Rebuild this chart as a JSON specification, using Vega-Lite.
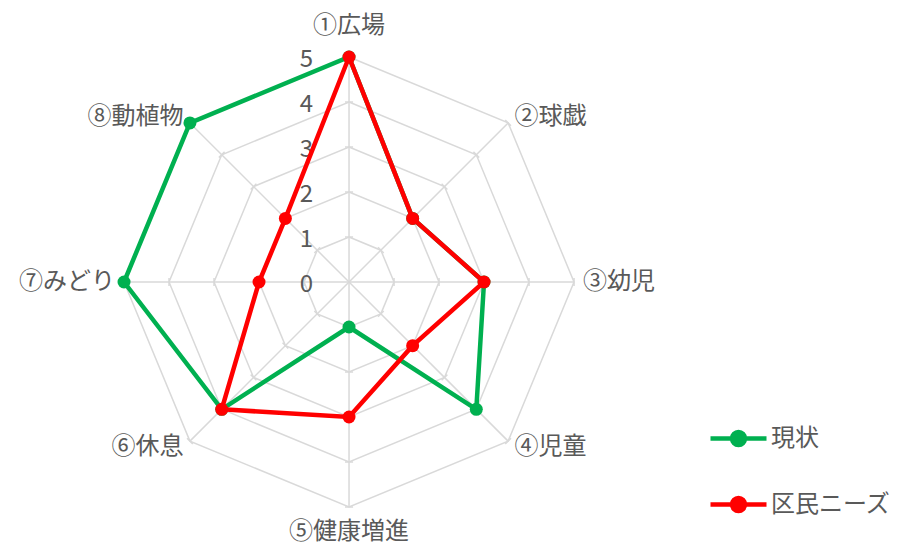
{
  "$schema": "https://vega.github.io/schema/vega-lite/v6.json",
  "width": 909,
  "height": 549,
  "autosize": "none",
  "padding": 0,
  "config": {"view": {"stroke": null}, "font": "Noto Sans CJK JP"},
  "datasets": {
    "scores": [
      {"axis": "①広場", "i": 0, "series": "現状", "v": 5},
      {"axis": "②球戯", "i": 1, "series": "現状", "v": 2},
      {"axis": "③幼児", "i": 2, "series": "現状", "v": 3},
      {"axis": "④児童", "i": 3, "series": "現状", "v": 4},
      {"axis": "⑤健康増進", "i": 4, "series": "現状", "v": 1},
      {"axis": "⑥休息", "i": 5, "series": "現状", "v": 4},
      {"axis": "⑦みどり", "i": 6, "series": "現状", "v": 5},
      {"axis": "⑧動植物", "i": 7, "series": "現状", "v": 5},
      {"axis": "①広場", "i": 0, "series": "区民ニーズ", "v": 5},
      {"axis": "②球戯", "i": 1, "series": "区民ニーズ", "v": 2},
      {"axis": "③幼児", "i": 2, "series": "区民ニーズ", "v": 3},
      {"axis": "④児童", "i": 3, "series": "区民ニーズ", "v": 2},
      {"axis": "⑤健康増進", "i": 4, "series": "区民ニーズ", "v": 3},
      {"axis": "⑥休息", "i": 5, "series": "区民ニーズ", "v": 4},
      {"axis": "⑦みどり", "i": 6, "series": "区民ニーズ", "v": 2},
      {"axis": "⑧動植物", "i": 7, "series": "区民ニーズ", "v": 2}
    ],
    "grid": [
      {"lv": 1, "i": [0, 1, 2, 3, 4, 5, 6, 7]},
      {"lv": 2, "i": [0, 1, 2, 3, 4, 5, 6, 7]},
      {"lv": 3, "i": [0, 1, 2, 3, 4, 5, 6, 7]},
      {"lv": 4, "i": [0, 1, 2, 3, 4, 5, 6, 7]},
      {"lv": 5, "i": [0, 1, 2, 3, 4, 5, 6, 7]}
    ],
    "levels": [{"lv": 0}, {"lv": 1}, {"lv": 2}, {"lv": 3}, {"lv": 4}, {"lv": 5}]
  },
  "data": {"name": "scores"},
  "transform": [
    {"calculate": "datum.i * PI / 4", "as": "a"},
    {"calculate": "datum.v * sin(datum.a)", "as": "px"},
    {"calculate": "datum.v * cos(datum.a)", "as": "py"},
    {"calculate": "5 * sin(datum.a)", "as": "ex"},
    {"calculate": "5 * cos(datum.a)", "as": "ey"},
    {"calculate": "datum.i == 0 ? 5.68 : (datum.i == 4 ? 5.55 : 5.2)", "as": "lr"},
    {"calculate": "datum.lr * sin(datum.a)", "as": "lx"},
    {"calculate": "datum.lr * cos(datum.a)", "as": "ly"}
  ],
  "layer": [
    {
      "data": {"name": "grid"},
      "transform": [
        {"flatten": ["i"]},
        {"calculate": "datum.i * PI / 4", "as": "a"},
        {"calculate": "datum.lv * sin(datum.a)", "as": "gx"},
        {"calculate": "datum.lv * cos(datum.a)", "as": "gy"}
      ],
      "mark": {"type": "line", "interpolate": "linear-closed", "stroke": "#D9D9D9", "strokeWidth": 1.5},
      "encoding": {
        "x": {"field": "gx", "type": "quantitative", "scale": {"domain": [-7.756, 12.444], "nice": false, "zero": false}, "axis": null},
        "y": {"field": "gy", "type": "quantitative", "scale": {"domain": [-5.933, 6.267], "nice": false, "zero": false}, "axis": null},
        "detail": {"field": "lv"},
        "order": {"field": "i", "type": "quantitative"}
      }
    },
    {
      "transform": [{"filter": "datum.series == '現状'"}],
      "mark": {"type": "rule", "stroke": "#D9D9D9", "strokeWidth": 1.5},
      "encoding": {
        "x": {"field": "ex", "type": "quantitative"},
        "y": {"field": "ey", "type": "quantitative"},
        "x2": {"datum": 0},
        "y2": {"datum": 0}
      }
    },
    {
      "data": {"name": "grid"},
      "transform": [
        {"flatten": ["i"]},
        {"calculate": "datum.i * PI / 4", "as": "a"},
        {"calculate": "datum.lv * sin(datum.a) - 0.09 * cos(datum.a)", "as": "tx1"},
        {"calculate": "datum.lv * cos(datum.a) + 0.09 * sin(datum.a)", "as": "ty1"},
        {"calculate": "datum.lv * sin(datum.a) + 0.09 * cos(datum.a)", "as": "tx2"},
        {"calculate": "datum.lv * cos(datum.a) - 0.09 * sin(datum.a)", "as": "ty2"}
      ],
      "mark": {"type": "rule", "stroke": "#D9D9D9", "strokeWidth": 1.5},
      "encoding": {
        "x": {"field": "tx1", "type": "quantitative"},
        "y": {"field": "ty1", "type": "quantitative"},
        "x2": {"field": "tx2"},
        "y2": {"field": "ty2"}
      }
    },
    {
      "data": {"name": "levels"},
      "mark": {"type": "text", "align": "right", "baseline": "middle", "dx": -36, "dy": 3, "fontSize": 24, "color": "#595959"},
      "encoding": {
        "x": {"datum": 0},
        "y": {"field": "lv", "type": "quantitative"},
        "text": {"field": "lv", "type": "quantitative"}
      }
    },
    {
      "transform": [{"filter": "datum.series == '現状'"}],
      "mark": {
        "type": "text",
        "baseline": "middle",
        "fontSize": 24,
        "color": "#595959",
        "align": {"expr": "datum.i % 4 == 0 ? 'center' : (datum.i < 4 ? 'left' : 'right')"}
      },
      "encoding": {
        "x": {"field": "lx", "type": "quantitative"},
        "y": {"field": "ly", "type": "quantitative"},
        "text": {"field": "axis"}
      }
    },
    {
      "transform": [{"filter": "datum.series == '現状'"}],
      "mark": {"type": "line", "interpolate": "linear-closed", "strokeWidth": 4.5},
      "encoding": {
        "x": {"field": "px", "type": "quantitative"},
        "y": {"field": "py", "type": "quantitative"},
        "order": {"field": "i", "type": "quantitative"},
        "color": {
          "field": "series",
          "type": "nominal",
          "scale": {"domain": ["現状", "区民ニーズ"], "range": ["#00B050", "#FF0000"]},
          "legend": {
            "title": null,
            "orient": "none",
            "legendX": 708,
            "legendY": 408,
            "symbolType": "M-1,0H1M-0.23,0A0.23,0.23 0 1 0 0.23,0A0.23,0.23 0 1 0 -0.23,0Z",
            "symbolSize": 3136,
            "symbolStrokeWidth": 4.5,
            "labelFontSize": 24,
            "labelColor": "#595959",
            "labelOffset": 2,
            "rowPadding": 20,
            "padding": 0,
            "encode": {"symbols": {"update": {"fill": {"scale": "color", "field": "value"}, "fillOpacity": {"value": 1}}}}
          }
        }
      }
    },
    {
      "transform": [{"filter": "datum.series == '現状'"}],
      "mark": {"type": "point", "filled": true, "size": 169, "opacity": 1},
      "encoding": {
        "x": {"field": "px", "type": "quantitative"},
        "y": {"field": "py", "type": "quantitative"},
        "color": {"field": "series", "type": "nominal"}
      }
    },
    {
      "transform": [{"filter": "datum.series == '区民ニーズ'"}],
      "mark": {"type": "line", "interpolate": "linear-closed", "strokeWidth": 4.5},
      "encoding": {
        "x": {"field": "px", "type": "quantitative"},
        "y": {"field": "py", "type": "quantitative"},
        "order": {"field": "i", "type": "quantitative"},
        "color": {"field": "series", "type": "nominal"}
      }
    },
    {
      "transform": [{"filter": "datum.series == '区民ニーズ'"}],
      "mark": {"type": "point", "filled": true, "size": 169, "opacity": 1},
      "encoding": {
        "x": {"field": "px", "type": "quantitative"},
        "y": {"field": "py", "type": "quantitative"},
        "color": {"field": "series", "type": "nominal"}
      }
    }
  ]
}
